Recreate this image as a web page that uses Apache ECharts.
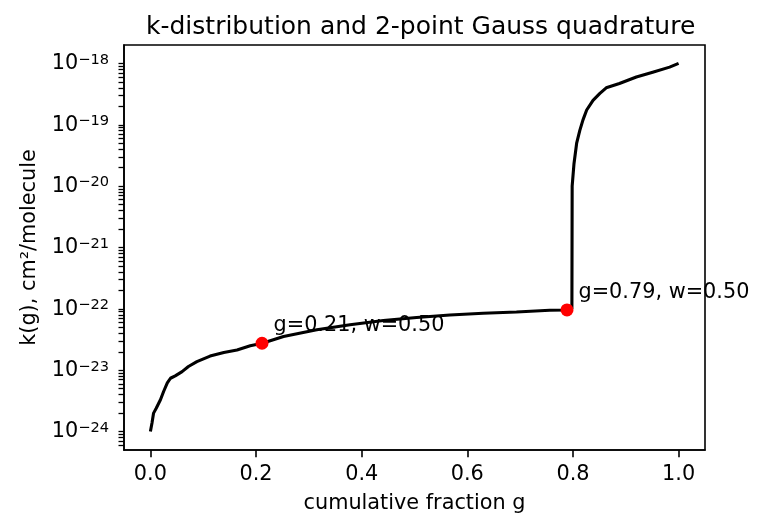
<!DOCTYPE html>
<html>
<head>
<meta charset="utf-8">
<script src="https://cdn.jsdelivr.net/npm/echarts@6/dist/echarts.min.js"></script>
<style>
  html, body { margin: 0; padding: 0; background: #fff; }
  #chart { width: 766px; height: 528px; }
</style>
</head>
<body>
<div id="chart"></div>
<script>
// k-distribution curve
var gVals = [0.000, 0.003, 0.006, 0.011, 0.019, 0.025, 0.032, 0.038, 0.047, 0.060,
             0.072, 0.088, 0.113, 0.139, 0.164, 0.189, 0.212, 0.252, 0.315, 0.378,
             0.441, 0.504, 0.567, 0.630, 0.693, 0.756, 0.788, 0.7980, 0.7985, 0.802,
             0.807, 0.813, 0.819, 0.826, 0.838, 0.851, 0.863, 0.888, 0.920, 0.951,
             0.983, 1.000];
var kVals = [1.0e-24, 1.38e-24, 2.0e-24, 2.4e-24, 3.3e-24, 4.5e-24, 6.2e-24, 7.4e-24, 8.1e-24, 9.5e-24,
             1.15e-23, 1.38e-23, 1.7e-23, 1.95e-23, 2.14e-23, 2.5e-23, 2.75e-23, 3.55e-23, 4.57e-23, 5.5e-23,
             6.46e-23, 7.24e-23, 7.94e-23, 8.5e-23, 8.9e-23, 9.5e-23, 9.6e-23, 1.0e-22, 1.0e-20, 2.34e-20,
             5.0e-20, 8.1e-20, 1.2e-19, 1.74e-19, 2.5e-19, 3.24e-19, 4.0e-19, 4.7e-19, 6.0e-19, 7.2e-19,
             8.7e-19, 1.0e-18];

// 2-point Gauss quadrature nodes
var gaussG = [0.2113, 0.7887];
var gaussW = [0.50, 0.50];
var gaussK = [2.75e-23, 9.6e-23];

// tick labels
var xTicks = [0, 0.2, 0.4, 0.6, 0.8, 1.0];
var yDecades = [-24, -23, -22, -21, -20, -19, -18];

var X_MIN = -0.05, X_MAX = 1.05;
var Y_MIN = -24.3, Y_MAX = -17.7;

// decade ticks plus log-spaced minor ticks (2..9 x 10^n) on the same axis
var yTicks = yDecades.slice();
for (var n = -25; n <= -18; n++) {
  for (var m = 2; m <= 9; m++) {
    var e = n + Math.log10(m);
    if (e > Y_MIN && e < Y_MAX) yTicks.push(e);
  }
}

var curve = [];
for (var i = 0; i < gVals.length; i++) {
  curve.push([gVals[i], Math.log10(kVals[i])]);
}
var nodes = [];
for (var j = 0; j < gaussG.length; j++) {
  nodes.push({ value: [gaussG[j], Math.log10(gaussK[j])], g: gaussG[j], w: gaussW[j] });
}

var FONT = 'DejaVu Sans';
var chart = echarts.init(document.getElementById('chart'), null, { renderer: 'canvas' });

var option = {
  animation: false,
  backgroundColor: '#fff',
  title: {
    text: 'k-distribution and 2-point Gauss quadrature',
    left: 141,
    top: 10,
    textStyle: { fontFamily: FONT, fontSize: 25, fontWeight: 'normal', color: '#000' }
  },
  grid: {
    left: 124, right: 61, top: 45, bottom: 78,
    show: true, borderColor: '#000', borderWidth: 1.6, backgroundColor: 'transparent'
  },
  xAxis: {
    type: 'value',
    min: X_MIN, max: X_MAX,
    name: 'cumulative fraction g',
    nameLocation: 'middle',
    nameGap: 43,
    nameTextStyle: { fontFamily: FONT, fontSize: 20.8, color: '#000' },
    splitLine: { show: false },
    axisLine: { show: true, onZero: false, lineStyle: { color: '#000', width: 1.6 } },
    axisTick: { show: true, inside: false, length: 7.3, customValues: xTicks, lineStyle: { color: '#000', width: 1.6 } },
    axisLabel: {
      customValues: xTicks,
      margin: 14.5,
      fontFamily: FONT, fontSize: 20.8, color: '#000',
      formatter: function (v) { return v.toFixed(1); }
    }
  },
  yAxis: {
    type: 'value',
    min: Y_MIN, max: Y_MAX,
    name: 'k(g), cm²/molecule',
    nameLocation: 'middle',
    nameGap: 84,
    nameTextStyle: { fontFamily: FONT, fontSize: 20.8, color: '#000' },
    splitLine: { show: false },
    axisLine: { show: true, onZero: false, lineStyle: { color: '#000', width: 1.6 } },
    axisTick: { show: true, inside: false, length: 5.5, customValues: yTicks, lineStyle: { color: '#000', width: 1.3 } },
    axisLabel: {
      customValues: yDecades,
      margin: 15,
      color: '#000',
      formatter: function (v) { return '{b|10}{s|\u2212' + Math.abs(Math.round(v)) + '}'; },
      rich: {
        b: { fontFamily: FONT, fontSize: 20.8, color: '#000', lineHeight: 22, padding: [8, 0, 0, 0], verticalAlign: 'bottom' },
        s: { fontFamily: FONT, fontSize: 14.6, color: '#000', lineHeight: 15, verticalAlign: 'top' }
      }
    }
  },
  series: [{
    type: 'line',
    data: curve,
    showSymbol: false,
    symbol: 'none',
    lineStyle: { color: '#000', width: 3.1 },
    z: 2
  }, {
    type: 'scatter',
    data: nodes,
    symbol: 'circle',
    symbolSize: 13,
    itemStyle: { color: '#ff0000', opacity: 1 },
    z: 3,
    label: {
      show: true,
      position: [18, -11],
      align: 'left',
      verticalAlign: 'middle',
      fontFamily: FONT, fontSize: 20.8, color: '#000', opacity: 1,
      formatter: function (p) { return 'g=' + p.data.g.toFixed(2) + ', w=' + p.data.w.toFixed(2); }
    }
  }]
};

chart.setOption(option);
</script>
</body>
</html>
